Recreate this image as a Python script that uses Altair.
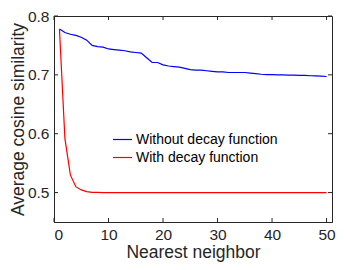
import altair as alt
import pandas as pd

neighbors = list(range(1, 51))
without_decay = [0.778, 0.772, 0.769, 0.767, 0.764, 0.759, 0.750, 0.748, 0.747, 0.744,
                 0.743, 0.742, 0.741, 0.739, 0.738, 0.737, 0.729, 0.721, 0.721, 0.717,
                 0.715, 0.714, 0.713, 0.711, 0.709, 0.708, 0.708, 0.707, 0.706, 0.705,
                 0.705, 0.704, 0.704, 0.704, 0.704, 0.703, 0.702, 0.701, 0.7005, 0.7005,
                 0.700, 0.700, 0.6995, 0.6995, 0.699, 0.699, 0.6985, 0.6982, 0.6978, 0.6972]
with_decay = [0.778, 0.592, 0.530, 0.510, 0.5045, 0.5017, 0.5005, 0.5002, 0.5, 0.5,
              0.5, 0.5, 0.5, 0.5, 0.5, 0.5, 0.5, 0.5, 0.5, 0.5,
              0.5, 0.5, 0.5, 0.5, 0.5, 0.5, 0.5, 0.5, 0.5, 0.5,
              0.5, 0.5, 0.5, 0.5, 0.5, 0.5, 0.5, 0.5, 0.5, 0.5,
              0.5, 0.5, 0.5, 0.5, 0.5, 0.5, 0.5, 0.5, 0.5, 0.5]
series_names = ["Without decay function", "With decay function"]
series_colors = ["#0000FF", "#FF0000"]
x_ticks = [0, 10, 20, 30, 40, 50]
y_ticks = [0.5, 0.6, 0.7, 0.8]

rows = []
for i, n in enumerate(neighbors):
    rows.append({"n": n, "v": without_decay[i], "s": series_names[0]})
    rows.append({"n": n, "v": with_decay[i], "s": series_names[1]})
df = pd.DataFrame(rows)

W, H = 278, 206
FONT = "Liberation Sans"
TXT = "#262626"

xscale = alt.Scale(domain=[0, 51], nice=False, zero=False)
yscale = alt.Scale(domain=[0.45, 0.8], nice=False, zero=False)

lines = alt.Chart(df).mark_line(strokeWidth=1.2, clip=True).encode(
    x=alt.X("n:Q", scale=xscale,
            axis=alt.Axis(title="Nearest neighbor", values=x_ticks, ticks=False,
                          grid=False, labelPadding=5, titlePadding=1, format="d")),
    y=alt.Y("v:Q", scale=yscale,
            axis=alt.Axis(title="Average cosine similarity", values=y_ticks, ticks=False,
                          grid=False, labelPadding=5, titlePadding=0, format=".1f")),
    color=alt.Color("s:N", scale=alt.Scale(domain=series_names, range=series_colors),
                    legend=alt.Legend(title=None, orient="none", legendX=58, legendY=113,
                                      symbolType="stroke", symbolSize=361, symbolStrokeWidth=1.2,
                                      labelFontSize=14, labelFont=FONT, labelColor="#000000",
                                      rowPadding=0, labelOffset=3)),
    detail="s:N",
)

xt = pd.DataFrame({"t": x_ticks})
yt = pd.DataFrame({"t": y_ticks})

xb = alt.Chart(xt).mark_rule(color=TXT, strokeWidth=1).encode(
    x=alt.X("t:Q", scale=xscale), y=alt.value(H), y2=alt.value(H - 4))
xtop = alt.Chart(xt).mark_rule(color=TXT, strokeWidth=1).encode(
    x=alt.X("t:Q", scale=xscale), y=alt.value(0), y2=alt.value(4))
yl = alt.Chart(yt).mark_rule(color=TXT, strokeWidth=1).encode(
    y=alt.Y("t:Q", scale=yscale), x=alt.value(0), x2=alt.value(4))
yr = alt.Chart(yt).mark_rule(color=TXT, strokeWidth=1).encode(
    y=alt.Y("t:Q", scale=yscale), x=alt.value(W), x2=alt.value(W - 4))

chart = alt.layer(lines, xb, xtop, yl, yr).properties(
    width=W, height=H,
    autosize=alt.AutoSizeParams(type="none"),
    padding={"left": 46, "top": 8, "right": 4, "bottom": 40},
).configure_view(stroke=TXT, strokeWidth=1).configure_axis(
    labelFont=FONT, titleFont=FONT, labelFontSize=15.5, titleFontSize=17.5,
    labelColor=TXT, titleColor=TXT, titleFontWeight="normal",
    domainColor=TXT, domainWidth=1,
)

chart.save("out.html", embed_options={"renderer": "svg", "actions": False})
